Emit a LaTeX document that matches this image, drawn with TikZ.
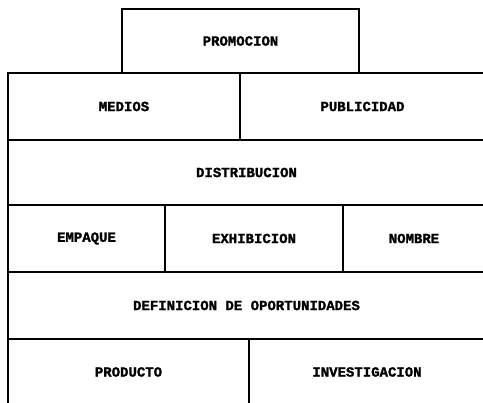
\documentclass[tikz,border=0pt]{standalone}
\usepackage{fontspec}
\setmonofont[BoldFeatures={FakeBold=1.6}]{Liberation Mono}
\usepackage{tikz}

\begin{document}
\begin{tikzpicture}[x=1pt, y=1pt, line width=1.6pt,
    caja/.style={draw, rectangle, inner sep=0pt, outer sep=0pt, font=\ttfamily\bfseries\fontsize{14}{16}\selectfont}]
        \useasboundingbox (0,0) rectangle (483,403);
        \clip (0,0) rectangle (483,403);
        \node[caja, minimum width=237pt, minimum height=64pt] (promocion) at (240.5,362) {PROMOCION};
        \node[caja, minimum width=232pt, minimum height=67pt] (medios) at (124,296.5) {MEDIOS};
        \node[caja, minimum width=245pt, minimum height=67pt] (publicidad) at (362.5,296.5) {PUBLICIDAD};
        \node[caja, minimum width=477pt, minimum height=65pt] (distribucion) at (246.5,230.5) {DISTRIBUCION};
        \node[caja, minimum width=157pt, minimum height=67pt] (empaque) at (86.5,164.5) {EMPAQUE};
        \node[caja, minimum width=178pt, minimum height=67pt] (exhibicion) at (254,164.5) {EXHIBICION};
        \node[caja, minimum width=142pt, minimum height=67pt] (nombre) at (414,164.5) {NOMBRE};
        \node[caja, minimum width=477pt, minimum height=67pt] (definicion) at (246.5,97.5) {DEFINICION DE OPORTUNIDADES};
        \node[caja, minimum width=241pt, minimum height=66pt] (producto) at (128.5,31) {PRODUCTO};
        \node[caja, minimum width=236pt, minimum height=66pt] (investigacion) at (367,31) {INVESTIGACION};
    \end{tikzpicture}
\end{document}
